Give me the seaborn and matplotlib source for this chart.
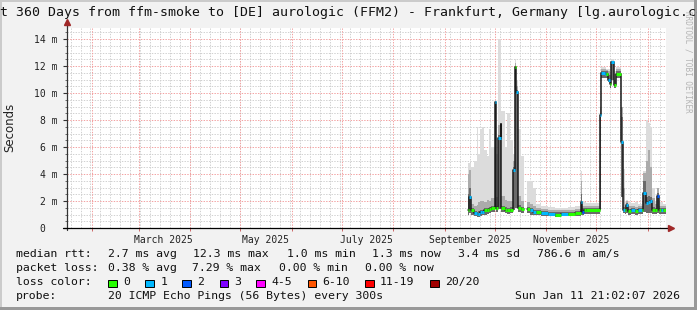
import numpy as np
import pandas as pd
import matplotlib
matplotlib.use("Agg")
import matplotlib.pyplot as plt
from matplotlib.patches import Rectangle
import seaborn as sns

# ---------------- data ----------------
times = [
    "2025-09-14 18:00", "2025-09-15 12:00", "2025-09-16 12:00", "2025-09-18 12:00",
    "2025-09-20 06:00", "2025-09-21 00:00", "2025-09-22 06:00", "2025-09-23 12:00",
    "2025-09-24 12:00", "2025-09-26 00:00", "2025-09-27 12:00", "2025-09-29 00:00",
    "2025-10-01 00:00", "2025-10-02 00:00", "2025-10-03 00:00", "2025-10-04 10:00",
    "2025-10-05 00:00", "2025-10-07 00:00", "2025-10-08 12:00", "2025-10-10 00:00",
    "2025-10-11 18:00", "2025-10-12 22:00", "2025-10-14 00:00", "2025-10-15 00:00",
    "2025-10-17 00:00", "2025-10-18 06:00", "2025-10-20 12:00", "2025-10-22 00:00",
    "2025-10-24 00:00", "2025-10-26 00:00", "2025-10-29 00:00", "2025-11-02 00:00",
    "2025-11-06 00:00", "2025-11-10 00:00", "2025-11-14 00:00", "2025-11-18 00:00",
    "2025-11-21 12:00", "2025-11-22 12:00", "2025-11-23 12:00", "2025-11-25 00:00",
    "2025-12-03 12:00", "2025-12-04 00:00", "2025-12-06 00:00", "2025-12-07 00:00",
    "2025-12-08 00:00", "2025-12-09 12:00", "2025-12-10 00:00", "2025-12-11 12:00",
    "2025-12-13 00:00", "2025-12-16 00:00", "2025-12-16 18:00", "2025-12-18 00:00",
    "2025-12-19 00:00", "2025-12-20 00:00", "2025-12-22 00:00", "2025-12-24 00:00",
    "2025-12-26 00:00", "2025-12-28 12:00", "2025-12-29 06:00", "2025-12-30 18:00",
    "2026-01-01 06:00", "2026-01-02 12:00", "2026-01-03 12:00", "2026-01-05 00:00",
    "2026-01-06 06:00", "2026-01-07 12:00", "2026-01-09 00:00", "2026-01-10 00:00",
    "2026-01-11 21:02",
]
# median RTT in ms (NaN = no data)
median_ms = [
    1.33, 2.3, 1.3, 1.1, 1.02, 1.05, 1.15, 1.2, 1.3, 1.35, 1.4, 1.5,
    9.3, 1.5, 6.64, 7.68, 1.46, 1.35, 1.3, 1.35, 4.3, 11.9, 10.1, 1.5,
    1.4, np.nan, 1.4, 1.3, 1.2, 1.15, 1.1, 1.05, 1.0, 1.05, 1.05, 1.1,
    1.9, 1.2, 1.3, 1.3, 8.4, 11.45, 11.4, 11.4, 11.0, 10.7, 12.3, 10.6,
    11.4, 6.4, 1.33, 1.3, 1.7, 1.25, 1.3, 1.25, 1.3, 1.3, 2.6, 1.83,
    1.9, 2.0, 1.35, 1.33, 2.4, 1.33, 1.35, 1.3, 1.3,
]
# loss class index into loss_labels
loss_idx = [
    0, 1, 0, 1, 1, 1, 1, 1, 0, 0, 0, 0,
    1, 0, 1, 1, 0, 0, 0, 0, 1, 0, 1, 0,
    0, 0, 0, 1, 1, 0, 1, 1, 0, 1, 0, 0,
    1, 2, 0, 0, 1, 1, 1, 0, 1, 0, 1, 0,
    0, 1, 1, 0, 1, 0, 1, 0, 1, 0, 1, 1,
    1, 1, 0, 0, 2, 0, 1, 0, 0,
]
# smoke bands (ms)
smoke_lo = [
    1.0, 1.1, 1.0, 0.9, 0.85, 0.85, 0.9, 0.95, 1.0, 1.05, 1.1, 1.15,
    1.4, 1.15, 1.4, 1.5, 1.15, 1.1, 1.05, 1.1, 1.3, 1.5, 1.5, 1.15,
    1.1, np.nan, 1.1, 1.0, 0.95, 0.95, 0.9, 0.9, 0.85, 0.9, 0.9, 0.9,
    1.0, 1.0, 1.05, 1.05, 1.3, 11.1, 11.1, 11.1, 10.8, 10.4, 11.0, 10.4,
    11.1, 2.3, 1.1, 1.05, 1.1, 1.0, 1.05, 1.0, 1.05, 1.05, 1.2, 1.1,
    1.1, 1.1, 1.05, 1.05, 1.1, 1.05, 1.05, 1.05, 1.05,
]
smoke_q3 = [
    2.5, 3.0, 1.45, 1.25, 1.2, 1.25, 1.3, 1.35, 1.45, 1.5, 1.55, 1.65,
    9.2, 1.65, 6.9, 7.7, 1.65, 1.55, 1.5, 1.55, 4.5, 11.9, 10.2, 1.7,
    1.55, np.nan, 1.55, 1.45, 1.35, 1.3, 1.25, 1.2, 1.15, 1.2, 1.2, 1.25,
    2.5, 1.45, 1.45, 1.45, 8.5, 11.6, 11.6, 11.6, 11.3, 11.0, 12.3, 11.0,
    11.6, 8.2, 1.55, 1.45, 1.85, 1.4, 1.45, 1.4, 1.45, 1.45, 3.5, 2.3,
    2.4, 2.3, 1.55, 1.5, 2.6, 1.45, 1.5, 1.45, 1.45,
]
smoke_p9 = [
    4.0, 4.3, 1.8, 1.6, 1.7, 1.9, 2.0, 2.0, 1.9, 2.1, 2.0, 2.2,
    9.3, 2.3, 7.6, 7.9, 2.4, 2.1, 2.0, 2.0, 5.0, 12.2, 10.5, 2.4,
    2.0, np.nan, 1.9, 1.8, 1.6, 1.45, 1.4, 1.35, 1.3, 1.35, 1.35, 1.4,
    3.5, 1.65, 1.65, 1.65, 9.0, 11.8, 11.8, 11.7, 11.6, 11.3, 12.4, 11.4,
    11.8, 9.0, 3.0, 1.65, 2.0, 1.6, 1.65, 1.55, 1.6, 1.65, 4.1, 5.0,
    5.8, 4.5, 2.2, 1.75, 3.0, 1.65, 1.65, 1.65, 1.65,
]
smoke_hi = [
    4.8, 4.8, 4.5, 5.0, 7.5, 5.5, 7.3, 7.5, 5.8, 5.3, 7.3, 6.0,
    9.4, 5.5, 14.0, 8.5, 8.7, 6.0, 8.5, 6.5, 5.5, 12.5, 11.0, 7.3,
    5.3, np.nan, 3.5, 3.5, 3.0, 1.8, 1.6, 1.55, 1.5, 1.5, 1.55, 1.6,
    4.2, 2.0, 1.9, 1.85, 9.5, 11.9, 11.9, 11.8, 11.8, 11.5, 12.5, 11.6,
    11.9, 9.0, 4.4, 1.9, 2.1, 1.9, 1.85, 1.9, 1.8, 1.9, 4.2, 8.0,
    7.8, 7.5, 3.0, 2.0, 3.0, 1.9, 1.9, 1.8, 1.8,
]

loss_labels = ["0", "1", "2", "3", "4-5", "6-10", "11-19", "20/20"]
loss_colors = ["#26ff00", "#00b8ff", "#0059ff", "#7e00ff", "#ff00ff",
               "#ff5500", "#ff0000", "#a10000"]

ytick_vals = [0, 2, 4, 6, 8, 10, 12, 14]
ytick_text = ["0  ", "2 m", "4 m", "6 m", "8 m", "10 m", "12 m", "14 m"]
xlabel_dates = ["2025-03-16", "2025-05-16", "2025-07-16", "2025-09-16", "2025-11-16"]
xlabel_text = ["March 2025", "May 2025", "July 2025", "September 2025", "November 2025"]

title = ("Last 360 Days from ffm-smoke to [DE] aurologic (FFM2) - "
         "Frankfurt, Germany [lg.aurologic.com]")
stats_rtt = [("median rtt:", 16), ("2.7 ms avg", 107.6), ("12.3 ms max", 193),
             ("1.0 ms min", 286.7), ("1.3 ms now", 372), ("3.4 ms sd", 458.3),
             ("786.6 m am/s", 537.3)]
stats_loss = [("packet loss:", 16), ("0.38 % avg", 107.6), ("7.29 % max", 192),
              ("0.00 % min", 278.7), ("0.00 % now", 365)]
probe_text = "20 ICMP Echo Pings (56 Bytes) every 300s"
stamp_text = "Sun Jan 11 21:02:07 2026"

t_start = pd.Timestamp("2025-01-16 21:02:07")
t_end = pd.Timestamp("2026-01-11 21:02:07")

# ---------------- figure ----------------
sns.set_theme(style="white")
plt.rcParams['font.family'] = ['DejaVu Sans Mono', 'DejaVu Sans']

W, H = 697, 310
fig = plt.figure(figsize=(W / 100, H / 100), dpi=100, facecolor="#f2f2f2")
L, R, T, B = 67, 666, 28, 228
ax = fig.add_axes([L / W, 1 - B / H, (R - L) / W, (B - T) / H])
ax.set_facecolor("white")
px_per_ms = 13.5
ax.set_xlim(t_start, t_end)
ax.set_ylim(0, (B - T) / px_per_ms)

df = pd.DataFrame({
    "time": pd.to_datetime(times), "median": median_ms, "loss": loss_idx,
    "lo": smoke_lo, "q3": smoke_q3, "p9": smoke_p9, "hi": smoke_hi,
})

# grid
for d in pd.date_range("2025-01-19", t_end, freq="6D"):
    ax.axvline(d, color="#d0d0d0", lw=0.7, ls=(0, (1.4, 1.4)), zorder=0)
for v in np.arange(0.5, 14.81, 0.5):
    if v % 2:
        ax.axhline(v, color="#d0d0d0", lw=0.7, ls=(0, (1.4, 1.4)), zorder=0)
month_starts = pd.date_range("2025-02-01", "2026-01-01", freq="MS")
for d in month_starts:
    ax.axvline(d, color="#f2a0a0", lw=0.7, ls=(0, (1.4, 1.4)), zorder=0.5)
for v in ytick_vals[1:]:
    ax.axhline(v, color="#f2a0a0", lw=0.7, ls=(0, (1.4, 1.4)), zorder=0.5)

# segments split at gaps, each holding its last value until the next sample
segs = []
seg_id = 0
cur = []
for i in range(len(df)):
    row = df.iloc[i]
    if np.isnan(row["median"]):
        if cur:
            hold = df.iloc[cur[-1]].copy()
            hold["time"] = row["time"]
            part = df.iloc[cur].copy()
            part = pd.concat([part, hold.to_frame().T])
            part["seg"] = seg_id
            segs.append(part)
            seg_id += 1
        cur = []
    else:
        cur.append(i)
if cur:
    part = df.iloc[cur].copy()
    part["seg"] = seg_id
    segs.append(part)
for s in segs:
    for c in ["median", "lo", "q3", "p9", "hi"]:
        s[c] = s[c].astype(float)
    s["time"] = pd.to_datetime(s["time"])

# smoke
for s in segs:
    ax.fill_between(s["time"], s["lo"], s["hi"], step="post", color="#dcdcdc", lw=0, zorder=1)
    ax.fill_between(s["time"], s["lo"], s["p9"], step="post", color="#ababab", lw=0, zorder=1.1)
    ax.fill_between(s["time"], s["lo"], s["q3"], step="post", color="#6a6a6a", lw=0, zorder=1.2)

# median line
line_df = pd.concat(segs, ignore_index=True)
sns.lineplot(data=line_df, x="time", y="median", units="seg", estimator=None,
             color="#1a1a1a", lw=1.1, drawstyle="steps-post", ax=ax, zorder=2,
             legend=False)
for s in segs:
    tt = list(s["time"])
    mm = list(s["median"])
    ll = list(s["loss"])
    for i in range(len(tt) - 1):
        ax.hlines(mm[i], tt[i], tt[i + 1], colors=loss_colors[int(ll[i])], lw=2.2, zorder=3)

# axes styling
for sp in ax.spines.values():
    sp.set_visible(False)
ax.set_xlabel("")
ax.set_ylabel("")
ax.set_yticks(ytick_vals)
ax.set_yticklabels(ytick_text, fontsize=7, color="#222222", family="DejaVu Sans Mono")
ax.set_yticks(np.arange(0.5, 14.6, 0.5), minor=True)
ax.tick_params(axis="y", which="major", length=3, width=0.8, color="#333333",
               direction="out", pad=4, left=True)
ax.tick_params(axis="y", which="minor", length=1.5, width=0.6, color="#555555",
               direction="out", left=True)
ax.set_xticks(pd.to_datetime(xlabel_dates))
ax.set_xticklabels(xlabel_text, fontsize=7, color="#222222", family="DejaVu Sans Mono")
ax.set_xticks(month_starts, minor=True)
ax.tick_params(axis="x", which="major", length=0, pad=5)
ax.tick_params(axis="x", which="minor", length=2.5, width=0.7, color="#cc6666",
               direction="out", bottom=True)

ax.plot([0, 0], [-0.012, 1.02], color="#333333", lw=0.9, transform=ax.transAxes,
        clip_on=False, zorder=5)
ax.plot([0], [1.03], marker="^", ms=4, color="#a02828", transform=ax.transAxes,
        clip_on=False, zorder=6)
ax.plot([-0.006, 1.006], [0, 0], color="black", lw=0.9, transform=ax.transAxes,
        clip_on=False, zorder=5)
ax.plot([1.009], [0], marker=">", ms=4, color="#a02828", transform=ax.transAxes,
        clip_on=False, zorder=6)


def fx(x):
    return x / W


def fy(y):
    return 1 - y / H


mono = "DejaVu Sans Mono"
fs = 8.25
fig.text(0.5, fy(12.5), title, ha="center", va="center", fontsize=9.5, family=mono,
         color="#111111")
fig.text(fx(10), fy(127), "Seconds", rotation=90, ha="center", va="center",
         fontsize=8.5, family="DejaVu Sans", color="#222222")
fig.text(fx(688), fy(62), "RRDTOOL / TOBI OETIKER", rotation=270, ha="center",
         va="center", fontsize=5.5, family=mono, color="#b4b4b4")

for txt, x in stats_rtt:
    fig.text(fx(x), fy(254), txt, ha="left", va="center", fontsize=fs, family=mono,
             color="#111111")
for txt, x in stats_loss:
    fig.text(fx(x), fy(268), txt, ha="left", va="center", fontsize=fs, family=mono,
             color="#111111")
fig.text(fx(16), fy(282), "loss color:", ha="left", va="center", fontsize=fs,
         family=mono, color="#111111")
box_x = [108, 145.3, 182, 219.6, 256.4, 307.6, 365, 430]
for bx, lab, col in zip(box_x, loss_labels, loss_colors):
    fig.add_artist(Rectangle((fx(bx), fy(287)), 8.5 / W, 7.5 / H, transform=fig.transFigure,
                             facecolor=col, edgecolor="black", lw=0.7))
    fig.text(fx(bx + 15), fy(282), lab, ha="left", va="center", fontsize=fs,
             family=mono, color="#111111")
fig.text(fx(16), fy(296), "probe:", ha="left", va="center", fontsize=fs, family=mono,
         color="#111111")
fig.text(fx(107.6), fy(296), probe_text, ha="left", va="center", fontsize=fs,
         family=mono, color="#111111")
fig.text(fx(680), fy(296), stamp_text, ha="right", va="center", fontsize=fs,
         family=mono, color="#111111")

# frame shading
fig.add_artist(Rectangle((0, 1 - 2 / H), 1, 2 / H, transform=fig.transFigure,
                         facecolor="#cbcbcb", lw=0))
fig.add_artist(Rectangle((0, 0), 2 / W, 1, transform=fig.transFigure,
                         facecolor="#cbcbcb", lw=0))
fig.add_artist(Rectangle((1 - 3 / W, 0), 3 / W, 1, transform=fig.transFigure,
                         facecolor="#999999", lw=0))
fig.add_artist(Rectangle((0, 0), 1, 3 / H, transform=fig.transFigure,
                         facecolor="#999999", lw=0))

fig.savefig("out.png", dpi=100, facecolor=fig.get_facecolor())
